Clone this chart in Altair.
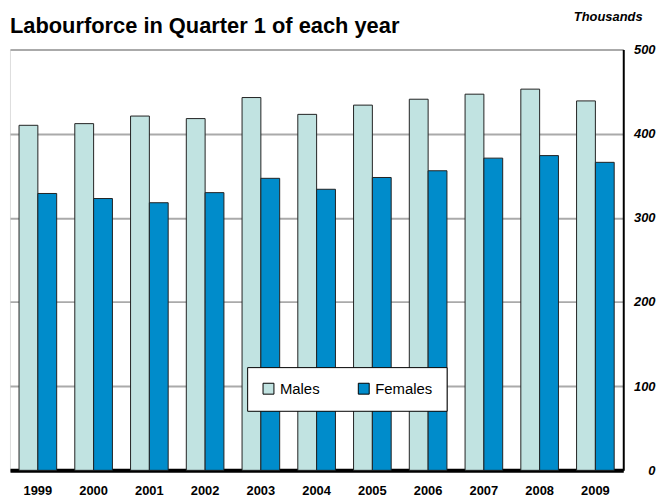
import altair as alt
import pandas as pd

years = ["1999", "2000", "2001", "2002", "2003", "2004", "2005", "2006", "2007", "2008", "2009"]
males = [410, 412, 421, 418, 443, 423, 434, 441, 447, 453, 439]
females = [329, 323, 318, 330, 347, 334, 348, 356, 371, 374, 366]
series = ["Males", "Females"]
colors = ["#c1e3e1", "#008ccb"]
y_ticks = [0, 100, 200, 300, 400, 500]

rows = []
for i, yr in enumerate(years):
    rows.append({"year": yr, "sex": "Males", "value": males[i]})
    rows.append({"year": yr, "sex": "Females", "value": females[i]})
df = pd.DataFrame(rows)

FONT = "Liberation Sans"

chart = alt.Chart(df).mark_bar(stroke="#222222", strokeWidth=1).encode(
    x=alt.X("year:N", sort=years,
            scale=alt.Scale(paddingInner=0.325, paddingOuter=0.1625),
            axis=alt.Axis(title=None, labelAngle=0, ticks=False, domainColor="black",
                          domainWidth=4, labelFont=FONT, labelFontWeight="bold",
                          labelFontSize=13, labelColor="black", labelPadding=14)),
    xOffset=alt.XOffset("sex:N", sort=series),
    y=alt.Y("value:Q", scale=alt.Scale(domain=[0, 500], nice=False),
            axis=alt.Axis(orient="right", values=y_ticks, grid=True, gridColor="#aaaaaa",
                          gridWidth=2, domainColor="black", domainWidth=2, ticks=False,
                          labelFont=FONT, labelFontStyle="italic", labelFontWeight="bold",
                          labelFontSize=13, labelColor="black", labelAlign="right",
                          labelPadding=32,
                          title="Thousands", titleAngle=0, titleAlign="right",
                          titleBaseline="alphabetic", titleX=19, titleY=-29,
                          titleFont=FONT, titleFontStyle="italic", titleFontWeight="bold",
                          titleFontSize=13, titleColor="black")),
    color=alt.Color("sex:N", sort=series,
                    scale=alt.Scale(domain=series, range=colors),
                    legend=alt.Legend(orient="none", legendX=239, legendY=320,
                                      direction="horizontal", title=None,
                                      fillColor="white", strokeColor="black",
                                      padding=14, symbolType="square", symbolSize=121,
                                      symbolStrokeColor="black", symbolStrokeWidth=1,
                                      symbolOpacity=1,
                                      labelFont=FONT, labelFontSize=15, labelColor="black",
                                      labelOffset=4, columnPadding=36)),
).properties(
    width=618,
    height=424,
    title=alt.TitleParams(text="Labourforce in Quarter 1 of each year", anchor="start",
                          font=FONT, fontSize=22, fontWeight="bold", color="black",
                          offset=12, dy=39),
    autosize=alt.AutoSizeParams(type="none"),
    padding={"left": 2, "top": 40, "right": 34, "bottom": 28},
).configure_view(
    stroke="#aaaaaa", strokeWidth=2
).configure(background="white")

chart.save("out.html", embed_options={"renderer": "svg", "actions": False})
